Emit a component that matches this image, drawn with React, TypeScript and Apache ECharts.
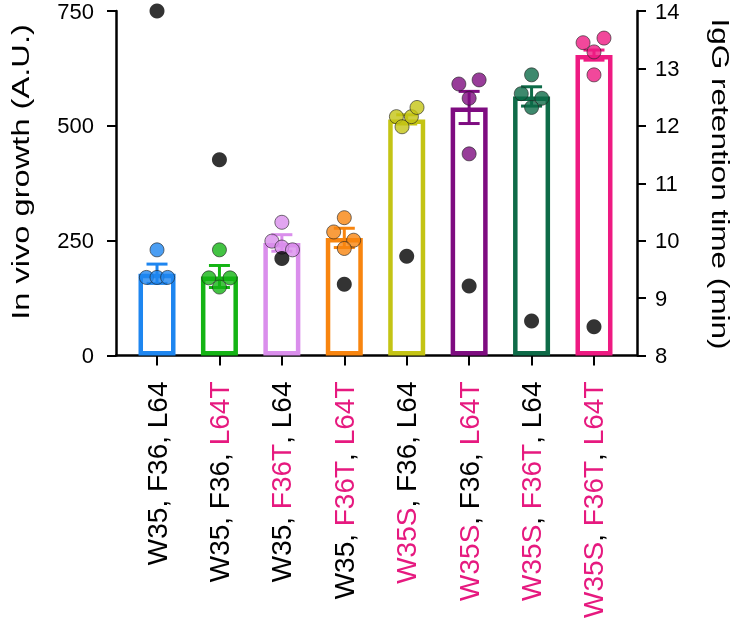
import React, { useEffect, useRef } from "react";
import * as echarts from "echarts";

const categories = [
  "W35, F36, L64",
  "W35, F36, L64T",
  "W35, F36T, L64",
  "W35, F36T, L64T",
  "W35S, F36, L64",
  "W35S, F36, L64T",
  "W35S, F36T, L64",
  "W35S, F36T, L64T",
];
const barColors = ["#1E86F0", "#14B414", "#DA8EEC", "#F8850F", "#C4C414", "#7E0C80", "#0E6B48", "#EE1A82"];
const growthMean = [178, 172, 245, 256, 514, 540, 564, 654];
const growthSem = [21, 24, 18, 21, 10, 35, 21, 11];
const growthPoints = [
  [230, 170, 170, 170],
  [230, 169, 169, 149],
  [290, 249, 236, 230],
  [300, 269, 251, 233],
  [520, 520, 540, 498],
  [591, 600, 560, 439],
  [611, 570, 560, 540],
  [681, 691, 661, 611],
];
// horizontal jitter of each dot, in category units
const pointJitter = [
  [0, -0.17, 0, 0.17],
  [0, -0.17, 0.17, 0],
  [0, -0.16, 0, 0.17],
  [0, -0.17, 0.15, 0],
  [-0.165, 0.075, 0.165, -0.075],
  [-0.165, 0.16, 0, 0],
  [0, -0.165, 0.165, 0],
  [-0.175, 0.16, 0, 0],
];
const retentionTime = [14.0, 11.41, 9.69, 9.24, 9.73, 9.21, 8.6, 8.5];
const leftTicks = { min: 0, max: 750, interval: 250 };
const rightTicks = { min: 8, max: 14, interval: 1 };

const FONT = "'Liberation Sans', Arial, Helvetica, sans-serif";
const PINK = "#E6197F";

export default function App() {
  const ref = useRef<HTMLDivElement>(null);
  useEffect(() => {
    if (!ref.current) return;
    const chart = echarts.init(ref.current, undefined, { renderer: "svg" });
    const idx = categories.map((_, i) => i);

    const barData = growthMean.map((m, i) => ({
      value: [i, m],
      itemStyle: { color: "#ffffff", borderColor: barColors[i], borderWidth: 4.5 },
    }));
    const errData = growthMean.map((m, i) => [i, m - growthSem[i], m + growthSem[i]]);
    const dotData: any[] = [];
    growthPoints.forEach((pts, i) =>
      pts.forEach((v, j) =>
        dotData.push({ value: [i + pointJitter[i][j], v], itemStyle: { color: barColors[i] } })
      )
    );
    const retData = retentionTime.map((v, i) => [i, v]);

    const labelFormatter = (val: number) => {
      const i = Math.round(val);
      const parts = categories[i].split(", ");
      return parts
        .map((p, k) => {
          const mutated = /[ST]$/.test(p);
          const sep = k < parts.length - 1 ? "," : "";
          return (mutated ? `{p|${p}}` : `{k|${p}}`) + (sep ? `{k|${sep} }` : "");
        })
        .join("");
    };

    chart.setOption({
      animation: false,
      grid: {
        left: 116,
        right: 105,
        top: 11,
        bottom: 264.5,
        containLabel: false,
        outerBoundsMode: "none",
      },
      xAxis: {
        type: "value",
        min: -0.657,
        max: 7.689,
        splitLine: { show: false },
        axisLine: { show: true, onZero: false, lineStyle: { color: "#000", width: 2.5 } },
        axisTick: { show: true, customValues: idx, length: 10, lineStyle: { color: "#000", width: 2 } },
        axisLabel: {
          customValues: idx,
          rotate: 90,
          margin: 26,
          formatter: labelFormatter,
          rich: {
            k: { color: "#000", fontSize: 28, fontFamily: FONT },
            p: { color: PINK, fontSize: 28, fontFamily: FONT },
          },
        },
      },
      yAxis: [
        {
          type: "value",
          position: "left",
          ...leftTicks,
          splitLine: { show: false },
          axisLine: { show: true, onZero: false, lineStyle: { color: "#000", width: 2.5 } },
          axisTick: { show: true, length: 9, lineStyle: { color: "#000", width: 2 } },
          axisLabel: { color: "#000", fontSize: 22, fontFamily: FONT, margin: 22 },
        },
        {
          type: "value",
          position: "right",
          ...rightTicks,
          splitLine: { show: false },
          axisLine: { show: true, onZero: false, lineStyle: { color: "#000", width: 2.5 } },
          axisTick: { show: true, length: 9, lineStyle: { color: "#000", width: 2 } },
          axisLabel: { color: "#000", fontSize: 22, fontFamily: FONT, margin: 18 },
        },
      ],
      graphic: [
        {
          type: "text",
          x: 21,
          y: 172,
          rotation: Math.PI / 2,
          scaleX: 1.42,
          style: {
            text: "In vivo growth (A.U.)",
            fontSize: 23,
            fontFamily: FONT,
            fill: "#000",
            align: "center",
            verticalAlign: "middle",
          },
        },
        {
          type: "text",
          x: 720,
          y: 184,
          rotation: -Math.PI / 2,
          scaleX: 1.37,
          style: {
            text: "IgG retention time (min)",
            fontSize: 23,
            fontFamily: FONT,
            fill: "#000",
            align: "center",
            verticalAlign: "middle",
          },
        },
      ],
      series: [
        {
          type: "bar",
          data: barData,
          barWidth: 37,
          z: 2,
        },
        {
          type: "custom",
          data: errData,
          z: 3,
          renderItem: (params: any, api: any) => {
            const i = api.value(0);
            const lo = api.coord([i, api.value(1)]);
            const hi = api.coord([i, api.value(2)]);
            const hw = 10.5;
            const style = { stroke: barColors[params.dataIndex], lineWidth: 3 };
            return {
              type: "group",
              children: [
                { type: "line", shape: { x1: lo[0], y1: lo[1], x2: hi[0], y2: hi[1] }, style },
                { type: "line", shape: { x1: hi[0] - hw, y1: hi[1], x2: hi[0] + hw, y2: hi[1] }, style },
                { type: "line", shape: { x1: lo[0] - hw, y1: lo[1], x2: lo[0] + hw, y2: lo[1] }, style },
              ],
            };
          },
        },
        {
          type: "scatter",
          data: dotData,
          symbolSize: 14,
          itemStyle: { borderColor: "#222", borderWidth: 0.8 },
          z: 4,
        },
        {
          type: "scatter",
          yAxisIndex: 1,
          data: retData,
          symbolSize: 15,
          itemStyle: { color: "#000" },
          z: 5,
        },
      ],
    });
    return () => chart.dispose();
  }, []);
  return <div ref={ref} style={{ position: "fixed", left: 0, top: 0, width: 742, height: 620 }} />;
}
